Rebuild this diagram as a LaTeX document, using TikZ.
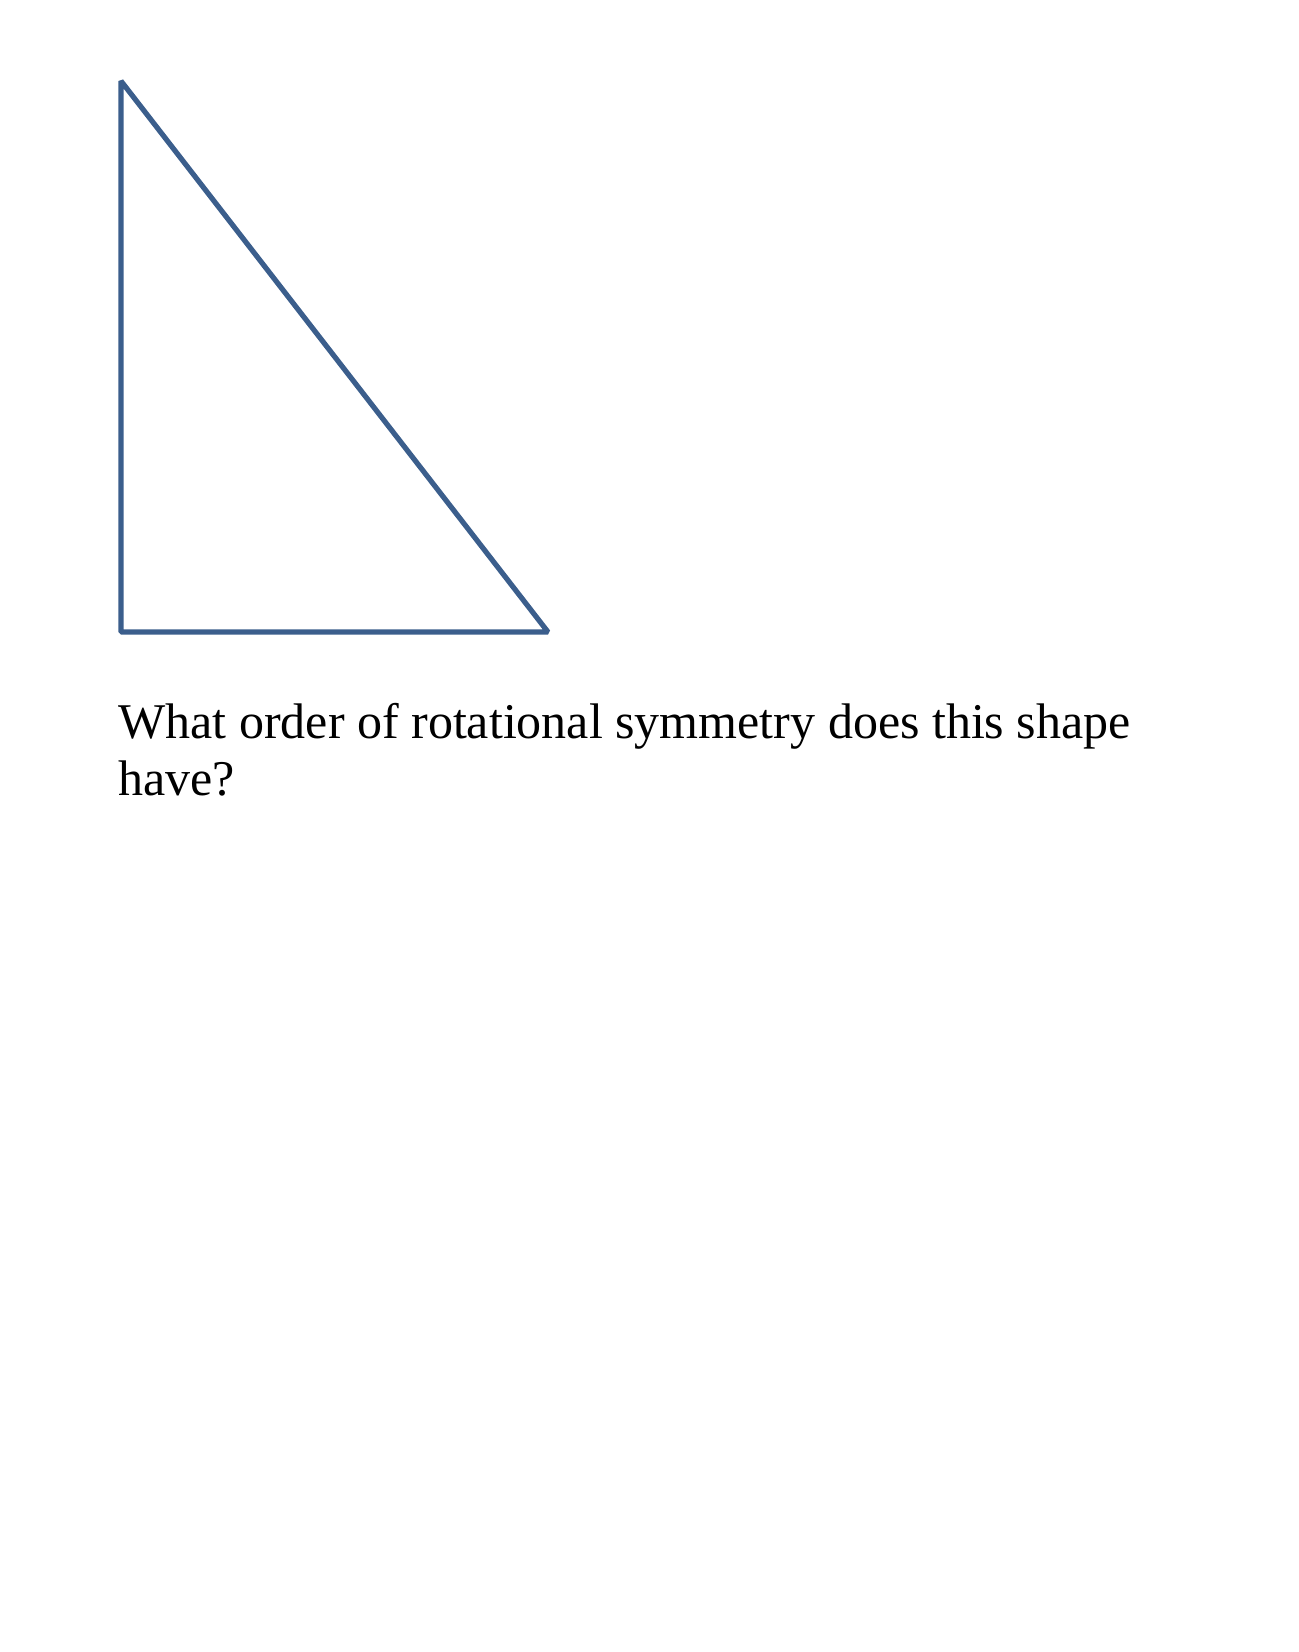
\documentclass[tikz,border=0pt]{standalone}
\usepackage{fontspec}
\setmainfont{Liberation Serif}
\usepackage{tikz}
\usetikzlibrary{positioning}
\usepackage{xcolor}
\definecolor{shapeblue}{HTML}{3B5E8C}

\begin{document}
\begin{tikzpicture}[
    x=0.5pt, y=-0.5pt,
    every node/.style={font=\fontsize{25}{28.5}\selectfont, inner sep=0pt, anchor=base west},
    edge/.style={draw=shapeblue, line width=2.6pt, line join=bevel}
]
    % Page
    \useasboundingbox (0,0) rectangle (1298,1652);

    % Right-angled triangle
    \coordinate (top) at (121,81);
    \coordinate (corner) at (121,632);
    \coordinate (right) at (548,632);
    \draw[edge] (top) -- (corner) -- (right) -- cycle;

    % Question
    \node (q1) at (118,738) {What order of rotational symmetry does this shape};
    \node (q2) at (118,795) {have?};
\end{tikzpicture}
\end{document}
